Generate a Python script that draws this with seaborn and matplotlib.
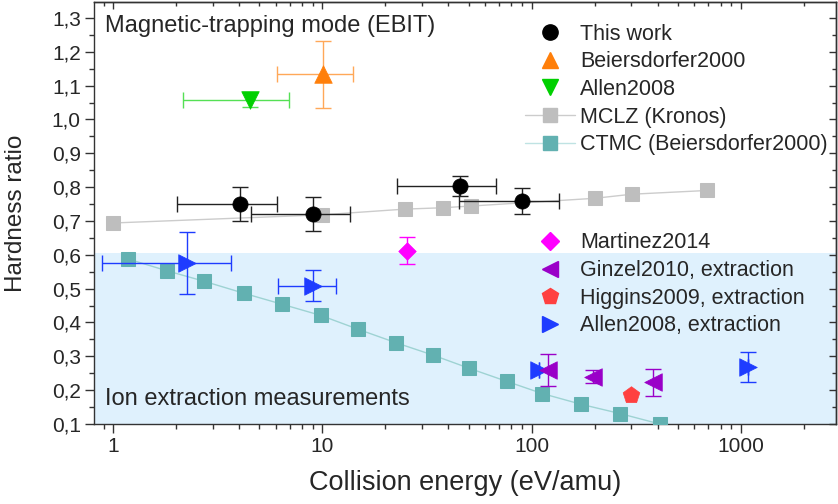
import numpy as np
import pandas as pd
import matplotlib
matplotlib.use("Agg")
import matplotlib.pyplot as plt
from matplotlib.lines import Line2D
from matplotlib.ticker import FuncFormatter, FixedLocator, LogLocator, NullFormatter, MultipleLocator
import seaborn as sns

# ---- data -------------------------------------------------------------
# This work (EBIT, magnetic trapping)
tw_E = [4.03, 9.04, 45.4, 89.6]
tw_R = [0.750, 0.720, 0.804, 0.759]
tw_Elo = [2.02, 4.54, 22.6, 44.9]
tw_Ehi = [6.04, 13.5, 67.5, 135.0]
tw_Rerr = [0.049, 0.050, 0.030, 0.039]

# Beiersdorfer2000
b_E = [10.1]
b_R = [1.134]
b_Elo = [6.04]
b_Ehi = [14.0]
b_Rerr = [0.099]

# Allen2008 (EBIT)
a_E = [4.5]
a_R = [1.058]
a_Elo = [2.16]
a_Ehi = [6.94]
a_Rerr = [0.022]

# MCLZ (Kronos)
mclz_E = [1.0, 9.9, 24.8, 37.6, 51.1, 201.0, 301.0, 687.0]
mclz_R = [0.694, 0.718, 0.735, 0.739, 0.744, 0.767, 0.779, 0.790]

# CTMC (Beiersdorfer2000)
ctmc_E = [1.17, 1.80, 2.71, 4.23, 6.40, 9.80, 14.8, 22.5, 33.6, 50.1, 76.0, 112.4, 173.0, 264.0, 410.0]
ctmc_R = [0.588, 0.553, 0.522, 0.486, 0.454, 0.421, 0.380, 0.340, 0.304, 0.265, 0.226, 0.190, 0.158, 0.131, 0.100]

# Martinez2014
m_E = [25.3]
m_R = [0.612]
m_Rerr = [0.040]

# Ginzel2010, extraction
g_E = [120.0, 196.0, 382.0]
g_R = [0.259, 0.240, 0.223]
g_Rerr = [0.048, 0.020, 0.039]

# Higgins2009, extraction
h_E = [297.0]
h_R = [0.186]

# Allen2008, extraction
ae_E = [2.24, 9.04, 109.0, 1085.0]
ae_R = [0.575, 0.509, 0.259, 0.269]
ae_Elo = [0.88, 6.15, 109.0, 1085.0]
ae_Ehi = [3.65, 11.6, 109.0, 1085.0]
ae_Rerr = [0.091, 0.047, 0.0, 0.045]

# ---- style ------------------------------------------------------------
sns.set_theme(style="ticks")
plt.rcParams["font.family"] = ["Liberation Sans", "DejaVu Sans"]
plt.rcParams["axes.linewidth"] = 1.0

C_BLACK = "#000000"
C_ORANGE = "#FF7F0A"
C_GREEN = "#00D000"
C_GRAY = "#BEBEBE"
C_TEAL = "#62B1B1"
C_MAG = "#FF00FF"
C_PURPLE = "#9A00C8"
C_RED = "#FF4040"
C_BLUE = "#1E3CFF"
C_SHADE = "#DFF1FD"

W, H = 838, 504
fig = plt.figure(figsize=(W / 100, H / 100), dpi=100)
ax = fig.add_axes([94 / W, 80 / H, (836 - 94) / W, (502 - 80) / H])

ax.set_xscale("log")
ax.set_xlim(0.809, 2850)
ax.set_ylim(0.1, 1.347)

# ion-extraction band
ax.axhspan(0.1, 0.605, color=C_SHADE, zorder=0, lw=0)


def xerr_from(E, lo, hi):
    E = np.asarray(E)
    return np.vstack([E - np.asarray(lo), np.asarray(hi) - E])


CAP = 6
# theory curves
sns.lineplot(x=mclz_E, y=mclz_R, ax=ax, color="#CCCCCC", lw=1.0, marker="s",
             markersize=10.5, markerfacecolor=C_GRAY, markeredgecolor=C_GRAY, zorder=3)
sns.lineplot(x=ctmc_E, y=ctmc_R, ax=ax, color="#9ED3D3", lw=1.0, marker="s",
             markersize=10.5, markerfacecolor=C_TEAL, markeredgecolor=C_TEAL, zorder=3)

# error bars
ax.errorbar(tw_E, tw_R, xerr=xerr_from(tw_E, tw_Elo, tw_Ehi), yerr=tw_Rerr, fmt="none",
            ecolor="#222222", elinewidth=1.0, capsize=CAP, capthick=1.0, zorder=4)
ax.errorbar(b_E, b_R, xerr=xerr_from(b_E, b_Elo, b_Ehi), yerr=b_Rerr, fmt="none",
            ecolor="#FFA858", elinewidth=1.0, capsize=CAP, capthick=1.0, zorder=4)
ax.errorbar(a_E, a_R, xerr=xerr_from(a_E, a_Elo, a_Ehi), yerr=a_Rerr, fmt="none",
            ecolor="#55E055", elinewidth=1.0, capsize=CAP, capthick=1.0, zorder=4)
ax.errorbar(m_E, m_R, yerr=m_Rerr, fmt="none",
            ecolor=C_MAG, elinewidth=1.0, capsize=CAP, capthick=1.0, zorder=4)
ax.errorbar(g_E, g_R, yerr=g_Rerr, fmt="none",
            ecolor=C_PURPLE, elinewidth=1.0, capsize=CAP, capthick=1.0, zorder=4)
ax.errorbar(ae_E, ae_R, xerr=xerr_from(ae_E, ae_Elo, ae_Ehi), yerr=ae_Rerr, fmt="none",
            ecolor=C_BLUE, elinewidth=1.0, capsize=CAP, capthick=1.0, zorder=4)

# data points
def pts(x, y, marker, color, size):
    sns.scatterplot(x=x, y=y, ax=ax, marker=marker, color=color, s=size,
                    edgecolor=color, linewidth=0.5, zorder=5, legend=False)

pts(tw_E, tw_R, "o", C_BLACK, 120)
pts(b_E, b_R, "^", C_ORANGE, 160)
pts(a_E, a_R, "v", C_GREEN, 160)
pts(m_E, m_R, "D", C_MAG, 80)
pts(ae_E, ae_R, ">", C_BLUE, 160)
pts(g_E, g_R, "<", C_PURPLE, 160)
pts(h_E, h_R, "p", C_RED, 160)

# ---- axes formatting --------------------------------------------------
ax.set_xlabel("Collision energy (eV/amu)", fontsize=19.5)
ax.set_ylabel("Hardness ratio", fontsize=17.5)
ax.xaxis.set_label_coords(0.5, -0.108)
ax.yaxis.set_label_coords(-0.09, 0.5)

ax.xaxis.set_major_locator(FixedLocator([1, 10, 100, 1000]))
ax.xaxis.set_major_formatter(FuncFormatter(lambda v, p: f"{v:g}"))
ax.xaxis.set_minor_locator(LogLocator(base=10, subs=np.arange(2, 10)))
ax.xaxis.set_minor_formatter(NullFormatter())
ax.yaxis.set_major_locator(MultipleLocator(0.1))
ax.yaxis.set_minor_locator(MultipleLocator(0.05))
ax.yaxis.set_major_formatter(FuncFormatter(lambda v, p: f"{v:.1f}".replace(".", ",")))

ax.tick_params(which="major", direction="out", length=6.5, width=1.0, labelsize=15,
               color="#333333", pad=3)
ax.tick_params(which="minor", direction="out", length=3.5, width=1.0, color="#333333")
for s in ax.spines.values():
    s.set_color("#333333")

# inward ticks on the top and right spines
top = ax.secondary_xaxis("top")
top.xaxis.set_major_locator(FixedLocator([1, 10, 100, 1000]))
top.xaxis.set_minor_locator(LogLocator(base=10, subs=np.arange(2, 10)))
top.tick_params(which="major", direction="in", length=5, width=1.0, labeltop=False, color="#333333")
top.tick_params(which="minor", direction="in", length=3, width=1.0, color="#333333")
top.xaxis.set_major_formatter(NullFormatter())
top.xaxis.set_minor_formatter(NullFormatter())
right = ax.secondary_yaxis("right")
right.yaxis.set_major_locator(MultipleLocator(0.1))
right.yaxis.set_minor_locator(MultipleLocator(0.05))
right.tick_params(which="major", direction="in", length=5, width=1.0, labelright=False, color="#333333")
right.tick_params(which="minor", direction="in", length=3, width=1.0, color="#333333")
right.yaxis.set_major_formatter(NullFormatter())

# ---- annotations ------------------------------------------------------
ax.text(0.0148, 0.928, "Magnetic-trapping mode (EBIT)", transform=ax.transAxes,
        fontsize=17, va="baseline", ha="left")
ax.text(0.0148, 0.045, "Ion extraction measurements", transform=ax.transAxes,
        fontsize=17, va="baseline", ha="left")

# ---- legends ----------------------------------------------------------
def h(marker, color, ms, line=None):
    return Line2D([], [], marker=marker, color=line if line else color, lw=1.0 if line else 0,
                  markerfacecolor=color, markeredgecolor=color, markersize=ms)

LEG = dict(frameon=False, fontsize=15.5, handlelength=2.33, handletextpad=0.23,
           labelspacing=0.31, borderpad=0, borderaxespad=0, loc="upper left")

h1 = [h("o", C_BLACK, 11), h("^", C_ORANGE, 12), h("v", C_GREEN, 12),
      h("s", C_GRAY, 10.5, "#CCCCCC"), h("s", C_TEAL, 10.5, "#BFE3E3")]
l1 = ["This work", "Beiersdorfer2000", "Allen2008", "MCLZ (Kronos)", "CTMC (Beiersdorfer2000)"]
leg1 = ax.legend(h1, l1, bbox_to_anchor=(0.581, 0.949), **LEG)
ax.add_artist(leg1)

h2 = [h("D", C_MAG, 9), h("<", C_PURPLE, 12), h("p", C_RED, 12), h(">", C_BLUE, 12)]
l2 = ["Martinez2014", "Ginzel2010, extraction", "Higgins2009, extraction", "Allen2008, extraction"]
ax.legend(h2, l2, bbox_to_anchor=(0.581, 0.454), **LEG)

fig.savefig("out.png", dpi=100)
